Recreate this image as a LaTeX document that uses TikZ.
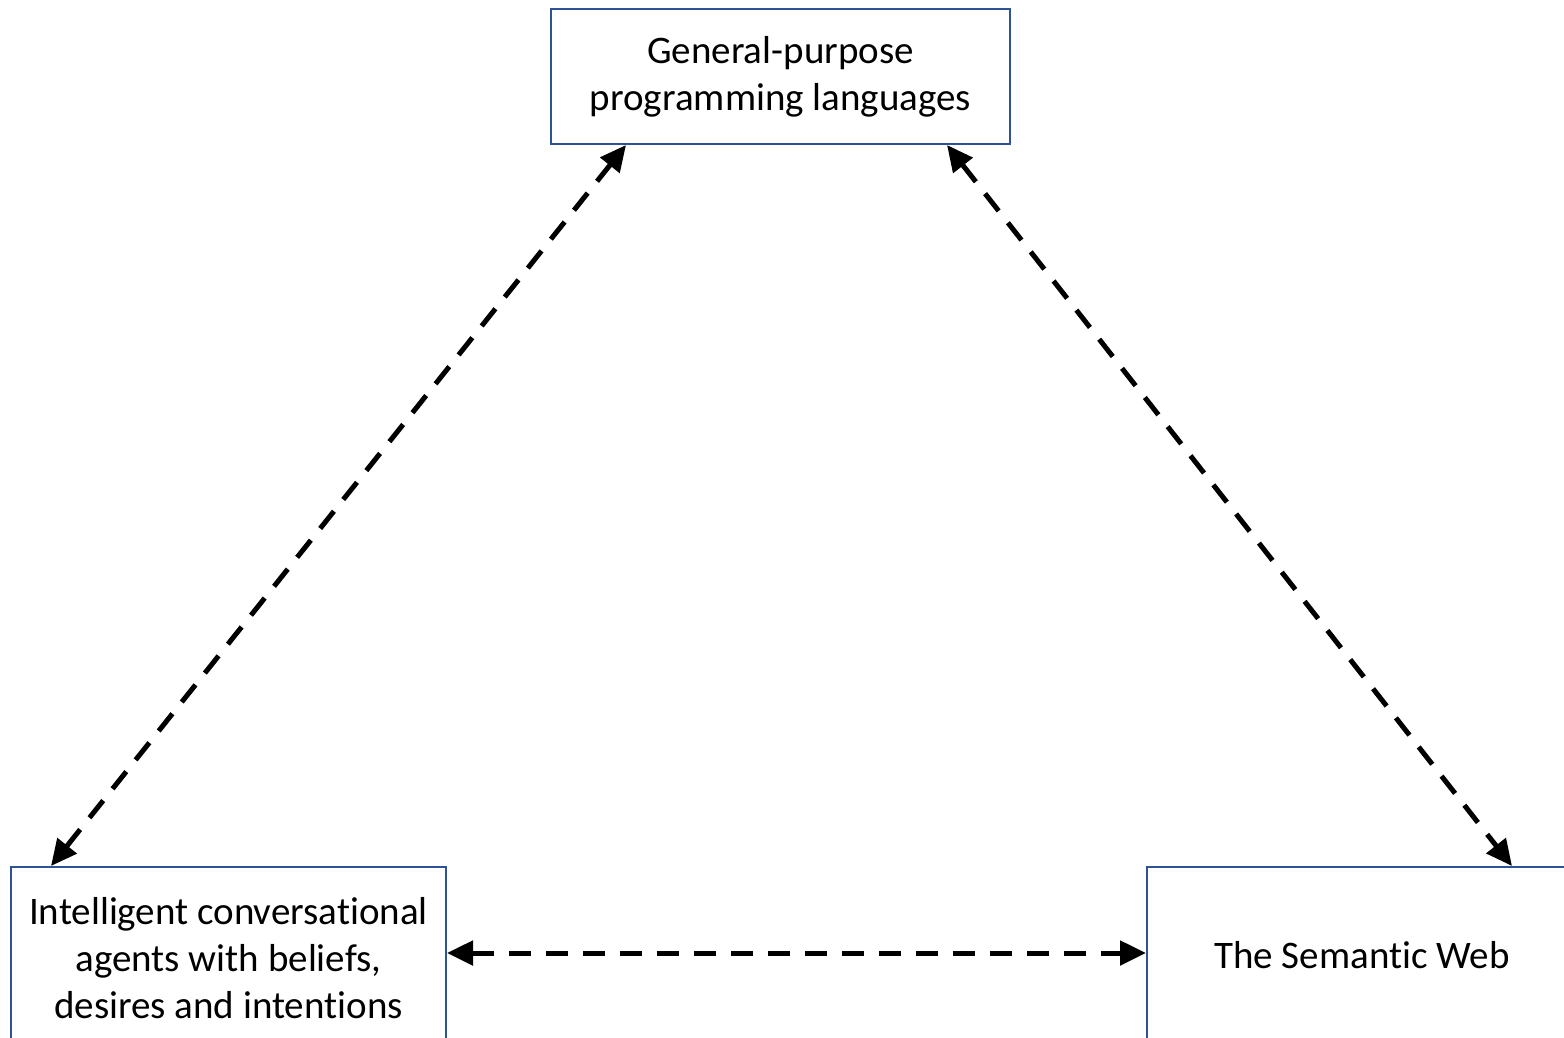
\documentclass[tikz,border=0pt]{standalone}
\usepackage{fontspec}
\setmainfont[Ligatures={NoCommon,NoRequired,NoContextual},Contextuals={NoAlternate}]{Carlito}
\usetikzlibrary{arrows.meta}
\definecolor{boxblue}{RGB}{47,82,150}
\begin{document}
\begin{tikzpicture}[x=1pt,y=-1pt,
  topic/.style={draw=boxblue,line width=2pt,fill=white,align=center,
    inner sep=0pt,font=\fontsize{39}{47}\selectfont},
  link/.style={line width=5pt,dash pattern=on 22pt off 15pt,
    {Triangle[length=26pt,width=24pt]}-{Triangle[length=26pt,width=24pt]}}]
  \useasboundingbox (0,0) rectangle (1564,1037);
  \clip (0,0) rectangle (1564,1037);
  % the three topics
  \node[topic,minimum width=459pt,minimum height=135pt] (gp) at (780.5,76.5)
    {General-purpose\\programming languages};
  \node[topic,minimum width=435pt,minimum height=182pt] (ica) at (228.5,958)
    {Intelligent conversational\\agents with beliefs,\\desires and intentions};
  \node[topic,minimum width=430pt,minimum height=176pt] (sw) at (1362,955)
    {The Semantic Web};
  % two-way links between the topics
  \draw[link] ([xshift=41pt]ica.north west) -- ([xshift=76pt]gp.south west);
  \draw[link] ([xshift=-64pt]gp.south east) -- ([xshift=366pt]sw.north west);
  \draw[link] (ica.east |- 0,953) -- (sw.west |- 0,953);
\end{tikzpicture}
\end{document}
